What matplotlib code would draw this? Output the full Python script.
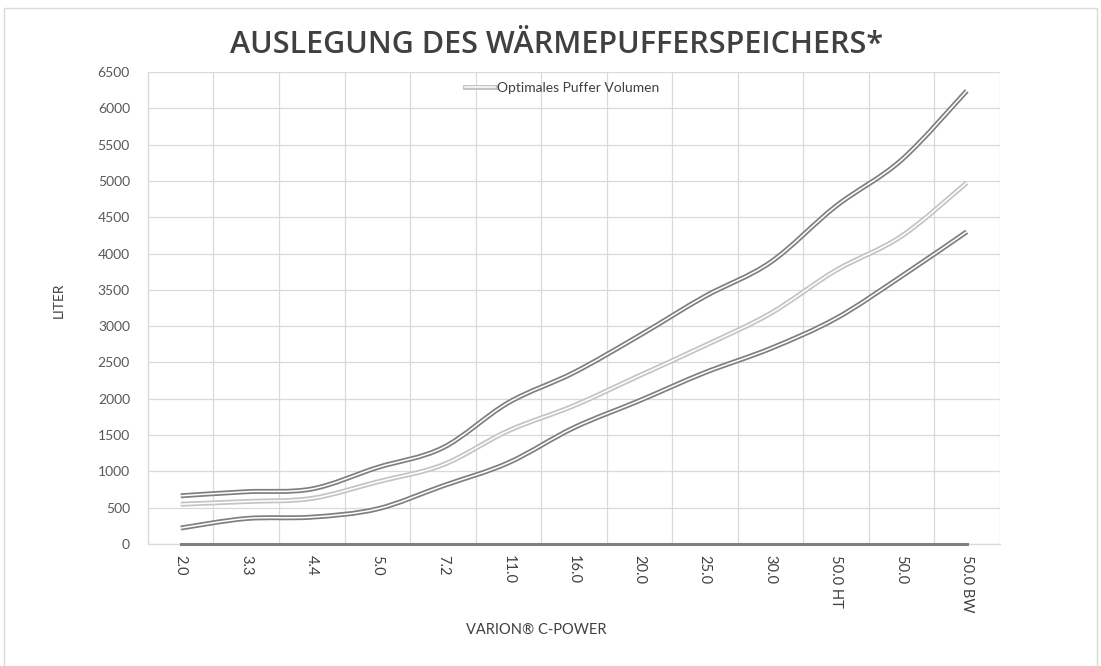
import matplotlib
matplotlib.use("Agg")
import matplotlib.pyplot as plt
from matplotlib.path import Path
from matplotlib.patches import PathPatch, Rectangle
from matplotlib.lines import Line2D
import numpy as np

# ---- data ----
categories = ["2.0", "3.3", "4.4", "5.0", "7.2", "11.0", "16.0", "20.0",
              "25.0", "30.0", "50.0 HT", "50.0", "50.0 BW"]
upper = [664, 720, 758, 1053, 1325, 1946, 2360, 2870, 3409, 3878, 4651, 5286, 6240]
optimal = [548, 585, 628, 855, 1090, 1559, 1904, 2318, 2732, 3174, 3767, 4237, 4975]
lower = [220, 351, 370, 483, 800, 1118, 1601, 1973, 2360, 2691, 3105, 3685, 4300]
baseline = [0] * len(categories)
yticks = list(range(0, 6501, 500))

title = "AUSLEGUNG DES WÄRMEPUFFERSPEICHERS*"
legend_label = "Optimales Puffer Volumen"
xlabel = "VARION® C-POWER"
ylabel = "LITER"

plt.rcParams['font.family'] = ['Lato', 'DejaVu Sans']

W, H = 1101, 666
fig = plt.figure(figsize=(W / 100, H / 100), dpi=100)
fig.patch.set_facecolor("white")
fig.add_artist(Rectangle((4 / W, -0.01), (1097 - 4) / W, 1 - 8 / H + 0.01,
                         transform=fig.transFigure, fill=False,
                         edgecolor="#d9d9d9", lw=1))

ax = fig.add_axes([148 / W, 1 - 544 / H, (999.5 - 148) / W, (544 - 72) / H])
x = np.arange(len(categories))
ax.set_xlim(-0.5, len(categories) - 0.5)
ax.set_ylim(0, 6500)


def smooth_path(xs, ys, tension=1 / 6):
    xs = np.asarray(xs, float)
    ys = np.asarray(ys, float)
    pts = np.column_stack([xs, ys])
    n = len(pts)
    verts = [pts[0]]
    codes = [Path.MOVETO]
    for i in range(n - 1):
        p0 = pts[i - 1] if i > 0 else pts[i]
        p1 = pts[i]
        p2 = pts[i + 1]
        p3 = pts[i + 2] if i + 2 < n else pts[i + 1]
        c1 = p1 + (p2 - p0) * tension
        c2 = p2 - (p3 - p1) * tension
        verts += [c1, c2, p2]
        codes += [Path.CURVE4] * 3
    return Path(verts, codes)


def double_line(ys, outer, inner="white", lw_out=3.6, lw_in=1.1, z=3):
    p = smooth_path(x, ys)
    ax.add_patch(PathPatch(p, fill=False, edgecolor=outer, lw=lw_out,
                           capstyle="butt", zorder=z))
    ax.add_patch(PathPatch(p, fill=False, edgecolor=inner, lw=lw_in,
                           capstyle="butt", zorder=z + 0.1))


double_line(upper, "#7f7f7f")
double_line(optimal, "#c4c4c4")
double_line(lower, "#7f7f7f")
ax.plot(x, baseline, color="#808080", lw=2.2, zorder=4, clip_on=False)

# grid
ax.set_yticks(yticks)
ax.set_yticklabels([str(v) for v in yticks])
ax.set_xticks(x)
ax.set_xticklabels(categories, rotation=270, va="top", ha="center")
ax.set_xticks(np.arange(-0.5, len(categories) + 0.5, 1), minor=True)
ax.grid(True, which="minor", axis="x", color="#d9d9d9", lw=0.9)
ax.grid(True, which="major", axis="y", color="#d9d9d9", lw=0.9)
ax.set_axisbelow(True)
ax.tick_params(axis="both", which="both", length=0, colors="#595959")
ax.tick_params(axis="y", labelsize=10, pad=13)
ax.tick_params(axis="x", labelsize=10.5, pad=8)
for lbl in ax.get_xticklabels():
    lbl.set_color("#404040")
for s in ["top", "right"]:
    ax.spines[s].set_visible(False)
for s in ["left", "bottom"]:
    ax.spines[s].set_color("#d9d9d9")
    ax.spines[s].set_linewidth(0.9)

ax.set_xlabel(xlabel, fontsize=10.5, color="#404040")
ax.set_ylabel(ylabel, fontsize=10, color="#404040")
ax.xaxis.set_label_coords((536 - 148) / (999.5 - 148), -(623 - 544) / (544 - 72))
ax.yaxis.set_label_coords(-(148 - 65) / (999.5 - 148), (544 - 300) / (544 - 72))

fig.text(557 / W, 1 - 45 / H, title, ha="center", va="center",
         fontsize=22, color="#404040", family=["Open Sans", "DejaVu Sans"],
         fontweight="semibold")

h_outer = Line2D([], [], color="#c4c4c4", lw=3.6)
h_inner = Line2D([], [], color="white", lw=1.1)
leg = ax.legend([(h_outer, h_inner)], [legend_label], loc="upper center",
                bbox_to_anchor=(0.486, 1.005), frameon=False, fontsize=10,
                handlelength=2.2, handletextpad=0.1)
for t in leg.get_texts():
    t.set_color("#404040")

fig.savefig("out.png", dpi=100, facecolor="white")
